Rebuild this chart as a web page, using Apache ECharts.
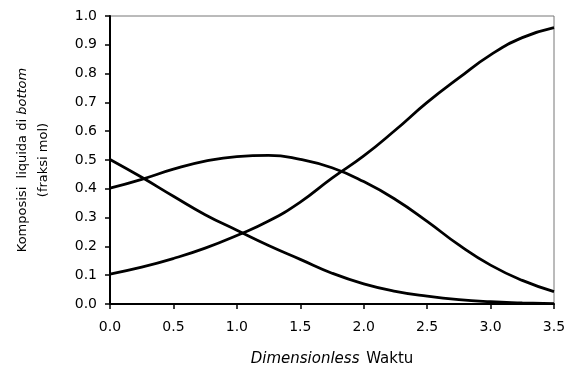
<!DOCTYPE html>
<html>
<head>
<meta charset="utf-8">
<script src="https://cdn.jsdelivr.net/npm/echarts@6/dist/echarts.min.js"></script>
<style>
    html, body { margin: 0; padding: 0; background: #fff; }
    #chart { width: 573px; height: 367px; }
</style>
</head>
<body>
<div id="chart"></div>
<script>
// waktu (dimensionless)
var waktu = [0, 0.25, 0.5, 0.75, 1.0, 1.25, 1.5, 1.75, 2.0, 2.25, 2.5, 2.75, 3.0, 3.25, 3.5];
// kurva naik
var kurvaNaik = [0.104, 0.128, 0.158, 0.194, 0.238, 0.288, 0.354, 0.437, 0.514, 0.604, 0.70, 0.785, 0.865, 0.925, 0.96];
// kurva puncak
var kurvaPuncak = [0.402, 0.433, 0.468, 0.496, 0.512, 0.516, 0.502, 0.473, 0.425, 0.363, 0.287, 0.205, 0.135, 0.082, 0.043];
// kurva turun
var kurvaTurun = [0.502, 0.44, 0.374, 0.31, 0.256, 0.203, 0.155, 0.107, 0.07, 0.044, 0.027, 0.015, 0.008, 0.004, 0.001];

function toPairs(xs, ys) {
    var out = [];
    for (var i = 0; i < xs.length; i++) {
        out.push([xs[i], ys[i]]);
    }
    return out;
}

function lineSeries(name, ys) {
    return {
        name: name,
        type: 'line',
        data: toPairs(waktu, ys),
        smooth: 0.5,
        showSymbol: false,
        lineStyle: { color: '#000', width: 2.8 },
        animation: false
    };
}

var myChart = echarts.init(document.getElementById('chart'));
var font = 'DejaVu Sans, sans-serif';
var option = {
    animation: false,
    grid: {
        left: 110, top: 16, right: 19, bottom: 63,
        outerBoundsMode: 'none',
        containLabel: false,
        show: true,
        borderColor: '#777',
        borderWidth: 1
    },
    xAxis: {
        type: 'value',
        min: 0, max: 3.5, interval: 0.5,
        name: '{i|Dimensionless}  {n|Waktu}',
        nameLocation: 'middle',
        nameGap: 48,
        nameTextStyle: {
            rich: {
                i: { fontStyle: 'italic', fontSize: 15, fontFamily: font, color: '#000' },
                n: { fontSize: 15, fontFamily: font, color: '#000' }
            }
        },
        axisLine: { lineStyle: { color: '#000', width: 2 } },
        axisTick: { length: 5, lineStyle: { color: '#000', width: 1.5 } },
        axisLabel: {
            color: '#000', fontSize: 14, fontFamily: font, margin: 16,
            formatter: function (v) { return v.toFixed(1); }
        },
        splitLine: { show: false }
    },
    yAxis: {
        type: 'value',
        min: 0, max: 1.0, interval: 0.1,
        name: '{n|Komposisi  liquida di }{i|bottom}\n{n|(fraksi mol)}',
        nameLocation: 'middle',
        nameRotate: 90,
        nameGap: 56,
        nameTextStyle: {
            align: 'center',
            lineHeight: 21,
            rich: {
                i: { fontStyle: 'italic', fontSize: 13, fontFamily: font, color: '#000', lineHeight: 21 },
                n: { fontSize: 13, fontFamily: font, color: '#000', lineHeight: 21 }
            }
        },
        axisLine: { show: true, lineStyle: { color: '#000', width: 2 } },
        axisTick: { show: true, length: 5, lineStyle: { color: '#000', width: 1.5 } },
        axisLabel: {
            color: '#000', fontSize: 14, fontFamily: font, margin: 13,
            formatter: function (v) { return v.toFixed(1); }
        },
        splitLine: { show: false }
    },
    series: [
        lineSeries('naik', kurvaNaik),
        lineSeries('puncak', kurvaPuncak),
        lineSeries('turun', kurvaTurun)
    ]
};
myChart.setOption(option);
</script>
</body>
</html>
